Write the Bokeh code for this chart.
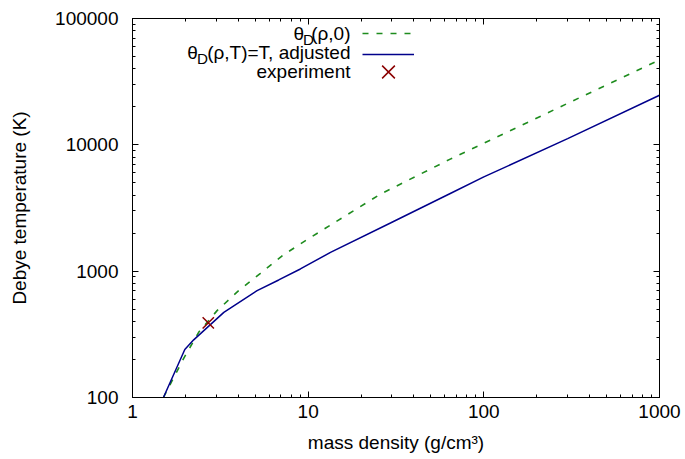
from bokeh.plotting import figure
from bokeh.models import (Range1d, LogAxis, FixedTicker, NumeralTickFormatter,
                          Legend, LegendItem, Label)
from bokeh.embed import file_html
from bokeh.resources import INLINE

# ---------------- data ----------------
rho_zero = [1.5, 1.96, 2.38, 3.03, 4.02, 5.35, 7.26, 10.0, 25.8, 64.4, 100.0, 300.0, 1000.0]
theta_zero = [100, 205, 328, 487, 701, 961, 1350, 1800, 4077, 7710, 10300, 21300, 47000]

rho_adj = [1.5, 1.985, 2.23, 3.31, 5.12, 6.8, 9.03, 13.4, 29.4, 64.4, 100.0, 300.0, 1000.0]
theta_adj = [100, 240, 286, 472, 701, 852, 1041, 1408, 2405, 4120, 5570, 11200, 24700]

rho_exp = [2.7]
theta_exp = [390]

x_ticks = [1, 10, 100, 1000]
y_ticks = [100, 1000, 10000, 100000]

legend_rows = [("θ", "D", "(ρ,0)"), ("θ", "D", "(ρ,T)=T, adjusted"), ("experiment", "", "")]

# ---------------- style ----------------
FONT = "Liberation Sans"
FS = 19
SUB_FS = 15.2
GREEN = "#1e8c1e"
BLUE = "#00008b"
RED = "#8b0000"

W, H = 685, 459
LEFT, RIGHT, TOP, BOTTOM = 132, 26, 18, 62
FRAME_H = H - TOP - BOTTOM

p = figure(width=W, height=H, x_axis_type="log", y_axis_type="log",
           x_range=Range1d(1, 1000), y_range=Range1d(100, 100000),
           output_backend="svg", toolbar_location=None,
           min_border_left=LEFT, min_border_right=RIGHT,
           min_border_top=TOP, min_border_bottom=BOTTOM)
p.grid.visible = False
p.outline_line_color = "black"
p.outline_line_alpha = 1.0
p.background_fill_color = "white"
p.border_fill_color = "white"


def minor(ticks):
    out = []
    for t in ticks[:-1]:
        out += [t * m for m in range(2, 10)]
    return out


def style_axis(ax, ticks, show_labels=True):
    ax.ticker = FixedTicker(ticks=ticks, minor_ticks=minor(ticks))
    ax.major_tick_in = 6
    ax.major_tick_out = 0
    ax.minor_tick_in = 3
    ax.minor_tick_out = 0
    ax.axis_line_color = "black"
    ax.major_tick_line_color = "black"
    ax.minor_tick_line_color = "black"
    if show_labels:
        ax.formatter = NumeralTickFormatter(format="0")
        ax.major_label_text_font = FONT
        ax.major_label_text_font_size = f"{FS}px"
        ax.major_label_text_color = "black"
        ax.axis_label_text_font = FONT
        ax.axis_label_text_font_size = f"{FS}px"
        ax.axis_label_text_font_style = "normal"
        ax.axis_label_text_color = "black"
    else:
        ax.major_label_overrides = {t: "" for t in ticks}
        ax.major_label_text_font_size = "0px"
        ax.major_label_standoff = 0


xa = p.xaxis[0]
ya = p.yaxis[0]
style_axis(xa, x_ticks)
style_axis(ya, y_ticks)
xa.axis_label = "mass density (g/cm³)"
ya.axis_label = "Debye temperature (K)"
xa.major_label_standoff = 7
xa.axis_label_standoff = 11
ya.major_label_standoff = 14
ya.axis_label_standoff = 22

top_ax = LogAxis()
style_axis(top_ax, x_ticks, show_labels=False)
p.add_layout(top_ax, "above")
right_ax = LogAxis()
style_axis(right_ax, y_ticks, show_labels=False)
p.add_layout(right_ax, "right")

# ---------------- curves ----------------
r_zero = p.line(rho_zero, theta_zero, line_color=GREEN, line_width=1.6, line_dash="6 8")
r_adj = p.line(rho_adj, theta_adj, line_color=BLUE, line_width=1.5)
r_exp = p.scatter(rho_exp, theta_exp, marker="x", size=16, line_color=RED, line_width=1.5)

# ---------------- legend ----------------
GLYPH_LEFT = 362 - LEFT             # frame x of sample left edge
ROW_CENTERS = [33.3, 54.3, 71.7]    # canvas y of each sample
for r, cy, gh in zip([r_zero, r_adj, r_exp], ROW_CENTERS, [16, 16, 45]):
    bottom_canvas = cy + gh / 2
    vy = (TOP + FRAME_H) - bottom_canvas
    leg = Legend(items=[LegendItem(label=" ", renderers=[r])],
                 location=(GLYPH_LEFT, vy), glyph_width=52, glyph_height=gh,
                 label_height=gh, label_width=1, label_standoff=0,
                 label_text_font_size="1px", padding=0, margin=0, spacing=0,
                 background_fill_alpha=0, border_line_alpha=0)
    p.add_layout(leg)

# text widths (em) for right-aligned composite legend labels
EM = {"(": 0.333, ")": 0.333, "ρ": 0.578, ",": 0.278, "0": 0.556, "T": 0.611,
      "=": 0.584, " ": 0.278, "a": 0.556, "d": 0.556, "j": 0.222, "u": 0.556,
      "s": 0.5, "t": 0.278, "e": 0.556, "D": 0.722}


def width(s, fs):
    return sum(EM.get(c, 0.556) for c in s) * fs


TEXT_RIGHT = 350 - LEFT
BASELINES = [33, 52, 71]
for (a, sub, b), base in zip(legend_rows, BASELINES):
    y = (TOP + FRAME_H) - base
    x = TEXT_RIGHT
    if b:
        p.add_layout(Label(x=x, y=y, x_units="screen", y_units="screen", text=b,
                           text_font=FONT, text_font_size=f"{FS}px", text_align="right",
                           text_baseline="alphabetic", text_color="black"))
        x -= width(b, FS) - 3
    if sub:
        p.add_layout(Label(x=x, y=y - 6, x_units="screen", y_units="screen", text=sub,
                           text_font=FONT, text_font_size=f"{SUB_FS}px", text_align="right",
                           text_baseline="alphabetic", text_color="black"))
        x -= width(sub, SUB_FS) - 1
    p.add_layout(Label(x=x, y=y, x_units="screen", y_units="screen", text=a,
                       text_font=FONT, text_font_size=f"{FS}px", text_align="right",
                       text_baseline="alphabetic", text_color="black"))

open("out.html", "w").write(file_html(p, INLINE))
